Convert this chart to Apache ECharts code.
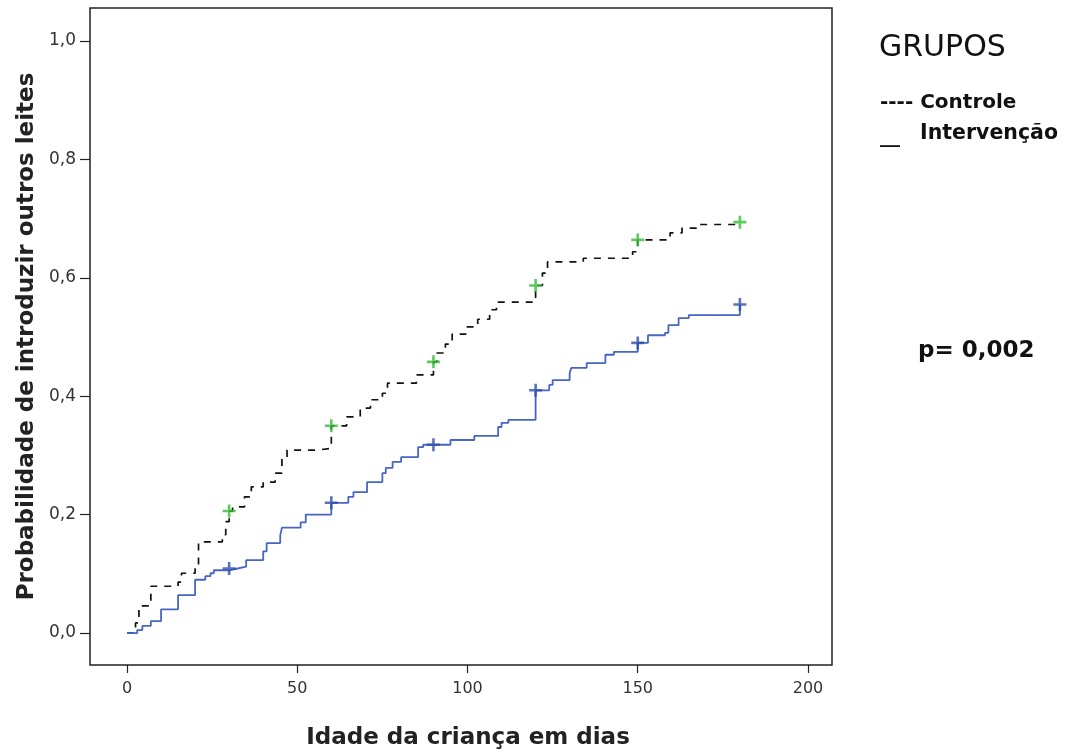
<!DOCTYPE html>
<html>
<head>
<meta charset="utf-8">
<script src="https://cdn.jsdelivr.net/npm/echarts@6/dist/echarts.min.js"></script>
<style>html,body{margin:0;padding:0;background:#fff}#c{width:1068px;height:756px}</style>
</head>
<body>
<div id="c"></div>
<script>
// Kaplan-Meier step data: [day, cumulative probability]
const controleDays = [0, 2.5, 3.5, 7, 15, 16, 20, 21, 28, 29, 30, 31, 34.5, 36.5, 40, 43.5, 45.5, 47, 56, 60, 64.5, 68.5, 71.5, 75, 76.5, 85, 90, 91, 93.5, 95.5, 99.5, 103, 106.5, 108.5, 120, 122, 123.5, 134, 148.5, 150, 159.5, 163, 168, 180];
const controleVals = [0, 0.017, 0.046, 0.079, 0.086, 0.101, 0.11, 0.154, 0.166, 0.188, 0.206, 0.213, 0.23, 0.247, 0.255, 0.27, 0.297, 0.309, 0.312, 0.35, 0.365, 0.38, 0.394, 0.405, 0.422, 0.436, 0.458, 0.473, 0.488, 0.505, 0.517, 0.53, 0.546, 0.559, 0.587, 0.608, 0.627, 0.633, 0.644, 0.664, 0.676, 0.684, 0.69, 0.694];
const intervDays = [0, 3, 4.5, 7, 10, 15, 20, 23, 24.5, 25.5, 30, 32.5, 35, 40, 41, 45, 45.5, 51, 52.5, 60, 65, 66.5, 70.5, 75, 76, 78, 80.5, 85.5, 87, 95, 102, 109, 110, 112, 120, 124, 125, 130, 130.5, 135, 140.5, 143, 150, 153, 158, 159, 162, 165, 180];
const intervVals = [0, 0.005, 0.012, 0.02, 0.04, 0.064, 0.09, 0.096, 0.101, 0.106, 0.109, 0.112, 0.123, 0.138, 0.152, 0.165, 0.178, 0.187, 0.2, 0.22, 0.23, 0.238, 0.255, 0.27, 0.279, 0.289, 0.297, 0.314, 0.318, 0.326, 0.333, 0.348, 0.355, 0.36, 0.41, 0.419, 0.427, 0.439, 0.448, 0.456, 0.47, 0.475, 0.49, 0.503, 0.507, 0.52, 0.532, 0.537, 0.555];
// censored observations
const censorDays = [30, 60, 90, 120, 150, 180];
const controleCensor = [0.206, 0.35, 0.458, 0.587, 0.664, 0.694];
const intervCensor = [0.109, 0.22, 0.318, 0.41, 0.49, 0.555];
const xTicks = [0, 50, 100, 150, 200];
const yTicks = [0, 0.2, 0.4, 0.6, 0.8, 1.0];

const zip = (a, b) => a.map((v, i) => [v, b[i]]);
const plus = 'path://M4,0H6V4H10V6H6V10H4V6H0V4H4Z';
const F = '"DejaVu Sans", Verdana, sans-serif';

const chart = echarts.init(document.getElementById('c'), null, {renderer: 'canvas'});
chart.setOption({
  animation: false,
  backgroundColor: '#fff',
  grid: {left: 90, top: 8, right: 236, bottom: 91, show: true, borderColor: '#222', borderWidth: 1.5, backgroundColor: 'transparent'},
  xAxis: {
    type: 'value', min: -10.87, max: 207.05,
    name: 'Idade da criança em dias', nameLocation: 'middle', nameGap: 62,
    nameTextStyle: {fontFamily: F, fontWeight: 'bold', fontSize: 23, color: '#222', padding: [0, 0, 0, 14]},
    axisLine: {show: false, onZero: false}, splitLine: {show: false},
    axisTick: {show: true, inside: false, length: 8, customValues: xTicks, lineStyle: {color: '#222', width: 1.2}},
    axisLabel: {customValues: xTicks, fontFamily: F, fontSize: 16, color: '#333', margin: 16}
  },
  yAxis: {
    type: 'value', min: -0.054, max: 1.0557,
    name: 'Probabilidade de introduzir outros leites', nameLocation: 'middle', nameGap: 50, nameRotate: 90,
    nameTextStyle: {fontFamily: F, fontWeight: 'bold', fontSize: 23, color: '#222'},
    axisLine: {show: false, onZero: false}, splitLine: {show: false},
    axisTick: {show: true, inside: false, length: 10, customValues: yTicks, lineStyle: {color: '#222', width: 1.2}},
    axisLabel: {customValues: yTicks, fontFamily: F, fontSize: 17, color: '#333', margin: 14,
      formatter: v => v.toFixed(1).replace('.', ',')}
  },
  series: [
    {type: 'line', name: 'Controle', step: 'end', data: zip(controleDays, controleVals), showSymbol: false,
     lineStyle: {color: '#111', width: 1.7, type: [7, 7]}, z: 2},
    {type: 'line', name: 'Intervenção', step: 'end', data: zip(intervDays, intervVals), showSymbol: false,
     lineStyle: {color: '#4766c4', width: 1.8}, z: 2},
    {type: 'scatter', data: zip(censorDays, controleCensor), symbol: plus, symbolSize: 13,
     itemStyle: {color: '#36bb36'}, z: 3},
    {type: 'scatter', data: zip(censorDays, intervCensor), symbol: plus, symbolSize: 13,
     itemStyle: {color: '#2f4ea8'}, z: 3}
  ],
  graphic: [
    {type: 'text', left: 879, top: 33, style: {text: 'GRUPOS', font: '30px ' + F, fill: '#111'}},
    {type: 'text', left: 880, top: 93, style: {text: '---- Controle', font: 'bold 20px ' + F, fill: '#111'}},
    {type: 'text', left: 880, top: 127, style: {text: '__', font: 'bold 20px ' + F, fill: '#111'}},
    {type: 'text', left: 920, top: 123, style: {text: 'Intervenção', font: 'bold 20.5px ' + F, fill: '#111'}},
    {type: 'text', left: 918, top: 340, style: {text: 'p= 0,002', font: 'bold 23px ' + F, fill: '#111'}}
  ]
});
</script>
</body>
</html>
